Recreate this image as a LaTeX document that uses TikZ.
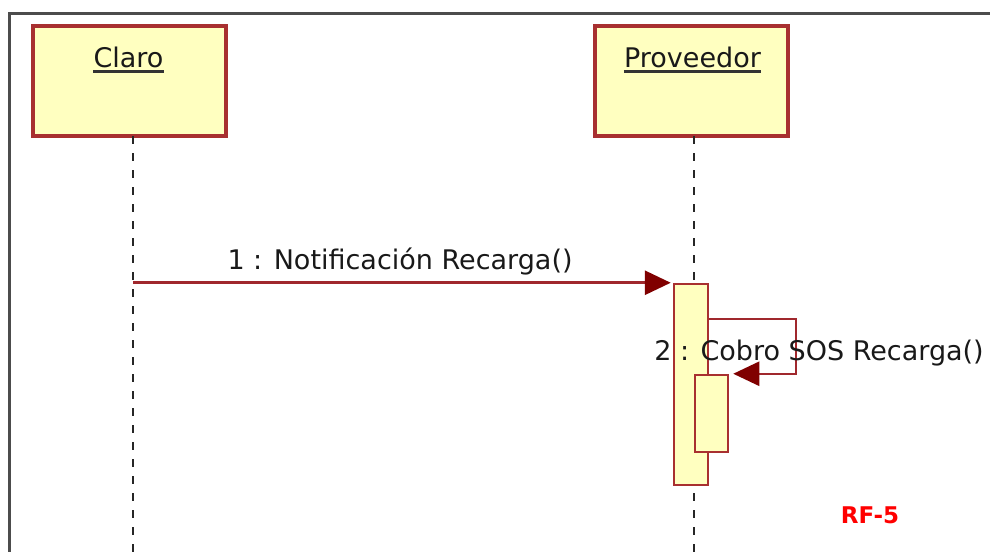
\documentclass[tikz,border=0pt]{standalone}
\usepackage{fontspec}
\setmainfont{DejaVu Sans}
\usetikzlibrary{arrows.meta,positioning}

\definecolor{objred}{RGB}{168,48,48}
\definecolor{objfill}{RGB}{255,255,192}
\definecolor{msgred}{RGB}{160,40,45}
\definecolor{tipred}{RGB}{128,0,0}

\tikzset{
  objbox/.style={draw=objred,fill=objfill,line width=3.5pt,minimum width=193pt,minimum height=110pt,inner sep=0pt},
  actbar/.style={draw=objred,fill=objfill,line width=2.5pt,inner sep=0pt},
  lifeline/.style={line width=2.8pt,draw=black!85,dash pattern=on 8pt off 9pt},
  msg/.style={draw=msgred,line width=3pt,-{Triangle[length=26pt,width=24pt,color=tipred]}},
  lbl/.style={font=\fontsize{27}{32}\selectfont,text=black!90,anchor=base,inner sep=0pt},
  uline/.style={line width=2.5pt,draw=black!80},
}

\begin{document}
\begin{tikzpicture}[x=1pt,y=-1pt]
\useasboundingbox (0,0) rectangle (990,552);
\draw[line width=3pt,draw=black!70] (990,13) -- (9,13) -- (9,552);

% objetos
\node[objbox] (claro) at (129.5,81) {};
\node[objbox] (prov) at (691.5,81) {};
\node[lbl] (claroname) at (128.5,67) {Claro};
\node[lbl] (provname) at (692.5,67) {Proveedor};
\draw[uline] ([yshift=-4pt]claroname.south west) -- ([yshift=-4pt]claroname.south east);
\draw[uline] ([yshift=-4pt]provname.south west) -- ([yshift=-4pt]provname.south east);

% lineas de vida
\coordinate (claroll) at (133,136);
\coordinate (provll) at (694,136);
\coordinate (clarobot) at (133,552);
\coordinate (provbot) at (694,552);
\draw[lifeline] (claroll) -- (clarobot);
\draw[lifeline] (provll) -- (provbot);

% activaciones
\node[actbar,minimum width=34pt,minimum height=201pt] (act1) at (691,384.5) {};
\node[actbar,minimum width=33pt,minimum height=77pt] (act2) at (711.5,413.5) {};

% mensajes
\draw[msg,shorten >=2pt] (claroll |- act1.north) -- (act1.north west);
\node[lbl] (m1) at (400,269) {1 : Notificación Recarga()};

\coordinate (selfy) at (0,319);
\coordinate (selfx) at (796,0);
\draw[msg,line width=2.5pt,shorten >=4pt] (act1.east |- selfy) -| (selfx |- act2.north east) -- (act2.north east);
\node[lbl] (m2) at (819,360) {2 : Cobro SOS Recarga()};

\node[font=\bfseries\fontsize{23}{28}\selectfont,text=red,anchor=base,inner sep=0pt] (rf) at (870,523) {RF-5};
\end{tikzpicture}
\end{document}
